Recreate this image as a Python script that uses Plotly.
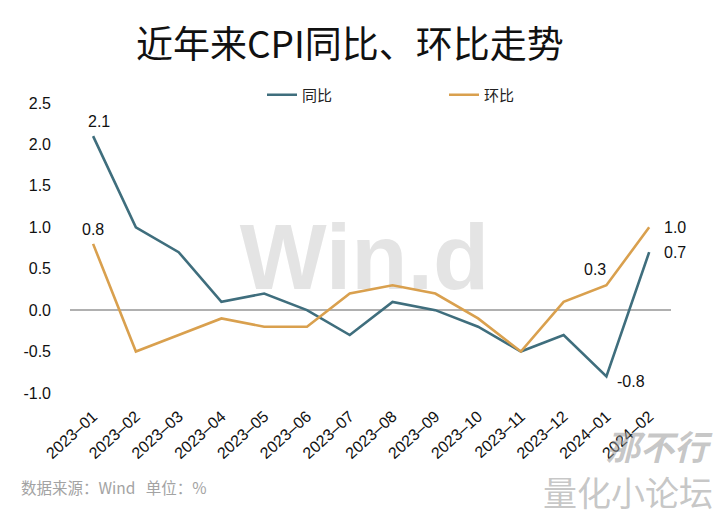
import plotly.graph_objects as go

months = ["2023-01", "2023-02", "2023-03", "2023-04", "2023-05", "2023-06", "2023-07",
          "2023-08", "2023-09", "2023-10", "2023-11", "2023-12", "2024-01", "2024-02"]
yoy = [2.1, 1.0, 0.7, 0.1, 0.2, 0.0, -0.3, 0.1, 0.0, -0.2, -0.5, -0.3, -0.8, 0.7]
mom = [0.8, -0.5, -0.3, -0.1, -0.2, -0.2, 0.2, 0.3, 0.2, -0.1, -0.5, 0.1, 0.3, 1.0]
ytick_vals = [-1.0, -0.5, 0.0, 0.5, 1.0, 1.5, 2.0, 2.5]
xtick_text = [m.replace("-", "–") for m in months]

c_yoy = "#3F6E7D"
c_mom = "#D9A04E"
font = "Liberation Sans, Arial, Noto Sans CJK SC"
cjk = "Noto Sans CJK SC"

fig = go.Figure()
fig.add_trace(go.Scatter(x=months, y=yoy, mode="lines", name="同比",
                         line=dict(color=c_yoy, width=2.6)))
fig.add_trace(go.Scatter(x=months, y=mom, mode="lines", name="环比",
                         line=dict(color=c_mom, width=2.6)))

ann = []
def lab(series, i, xs, ys, xa="center", ya="bottom"):
    ann.append(dict(x=months[i], y=series[i], text=f"{series[i]:.1f}", showarrow=False,
                    xshift=xs, yshift=ys, xanchor=xa, yanchor=ya,
                    font=dict(size=16, color="#111", family=font)))

lab(yoy, 0, 6, 4)
lab(mom, 0, 0, 4)
lab(mom, 12, -11, 5)
lab(yoy, 12, 9, -5, "left", "middle")
lab(mom, 13, 13, 0, "left", "middle")
lab(yoy, 13, 13, 0, "left", "middle")

# title (pixel x 350, y 42)
ann.append(dict(text="近年来CPI同比、环比走势", xref="paper", yref="paper", x=(350 - 70) / 601, y=1,
                xanchor="center", yanchor="middle", showarrow=False, yshift=61,
                font=dict(size=37, color="#111", family=cjk)))
ann.append(dict(text="数据来源：Wind   单位：%", xref="paper", yref="paper", x=0, y=0,
                xanchor="left", yanchor="middle", showarrow=False, xshift=-51, yshift=-94,
                font=dict(size=15.5, color="#a3a3a3", family=cjk)))
ann.append(dict(text="<b><i>那不行</i></b>", xref="paper", yref="paper", x=1, y=0,
                xanchor="right", yanchor="middle", showarrow=False, xshift=44, yshift=-52,
                font=dict(size=34, color="rgba(150,150,150,0.55)", family=cjk)))
ann.append(dict(text="量化小论坛", xref="paper", yref="paper", x=1, y=0,
                xanchor="right", yanchor="middle", showarrow=False, xshift=44, yshift=-98,
                font=dict(size=34, color="rgba(150,150,150,0.55)", family=cjk)))

fig.update_layout(
    width=725, height=516,
    margin=dict(l=70, r=54, t=103, b=123),
    paper_bgcolor="white", plot_bgcolor="white",
    font=dict(family=font, size=15, color="#111"),
    showlegend=True,
    legend=dict(orientation="h", x=(262 - 70) / 601, xanchor="left", y=(393 - 95) / 290,
                yanchor="middle", font=dict(size=15, family=cjk, color="#222"),
                itemwidth=30, entrywidth=137, bgcolor="rgba(0,0,0,0)"),
    annotations=ann,
    xaxis=dict(type="category", range=[-0.54, 13.51], showgrid=False, showline=False,
               zeroline=False, ticks="", tickangle=-42, tickvals=months, ticktext=xtick_text,
               ticklabelstandoff=10, tickfont=dict(size=16, family=font)),
    yaxis=dict(range=[-1.0, 2.5], tickvals=ytick_vals, ticktext=[f"{v:.1f}" for v in ytick_vals],
               showgrid=False, showline=False, zeroline=True, zerolinecolor="#b0b0b0",
               zerolinewidth=1.5, ticks="", ticklabelstandoff=18,
               tickfont=dict(size=16, family=font)),
)
fig.add_shape(type="rect", xref="paper", yref="paper", x0=0.25, x1=0.73, y0=0.30, y1=0.70,
              layer="below", line=dict(width=0), fillcolor="rgba(0,0,0,0)",
              label=dict(text="<b>Win.d</b>", font=dict(size=92, color="#e4e4e4", family="Liberation Sans"),
                         textposition="middle center"))
fig.write_html("out.html")
